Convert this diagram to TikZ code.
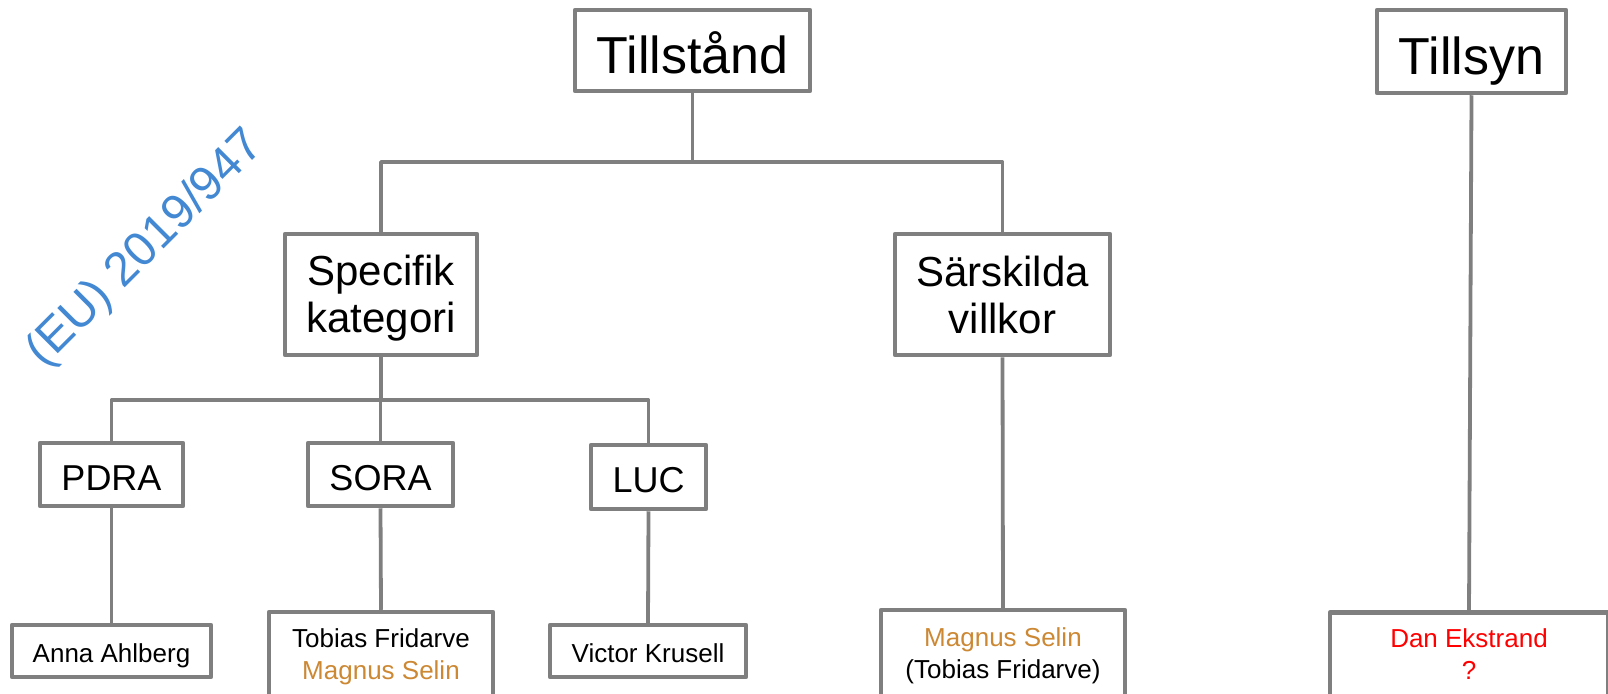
\documentclass[tikz,border=0pt]{standalone}
\usepackage{fontspec}
\setmainfont{Liberation Sans}
\definecolor{linegray}{HTML}{7F7F7F}
\definecolor{ochre}{HTML}{CC8833}
\definecolor{eublue}{HTML}{4288D2}
\begin{document}
\begin{tikzpicture}[x=1pt,y=-1pt,
  box/.style={draw=linegray, line width=4.5pt, line join=round, fill=white,
              inner sep=0pt, align=center},
  conn/.style={draw=linegray, line width=3.8pt, line join=round},
  big/.style={font=\fontsize{52}{52}\selectfont, text height=56pt, text depth=10.4pt},
  mid/.style={font=\fontsize{42}{47}\selectfont},
  small/.style={font=\fontsize{36}{40}\selectfont, text height=38.9pt, text depth=7.2pt},
  person/.style={font=\fontsize{26}{32}\selectfont},
  personone/.style={person, text height=28.1pt, text depth=5.2pt},
  boxtext/.style={align=center, inner sep=0pt}]
\useasboundingbox (0,0) rectangle (1608,693);

% top level
\node[box,big,minimum width=235pt,minimum height=81pt] (tillstand) at (692.5,50.5) {Tillstånd};
\node[box,big,minimum width=189pt,minimum height=83pt] (tillsyn) at (1471.5,51.5) {Tillsyn};

% second level: frames, then their two-line captions
\node[box,minimum width=192pt,minimum height=121pt] (specifik) at (381,294.5) {};
\node[boxtext,mid] (specifik-text) at ([yshift=-4pt]specifik.center) {Specifik\\kategori};
\node[box,minimum width=215pt,minimum height=121pt] (sarskilda) at (1002.5,294.5) {};
\node[boxtext,mid] (sarskilda-text) at (sarskilda.center) {Särskilda\\villkor};

% third level
\node[box,small,minimum width=143pt,minimum height=63pt] (pdra) at (111.5,474.5) {PDRA};
\node[box,small,minimum width=145pt,minimum height=63pt] (sora) at (380.5,474.5) {SORA};
\node[box,small,minimum width=115pt,minimum height=64pt] (luc) at (648.5,477) {LUC};

% people
\node[box,personone,minimum width=199pt,minimum height=52pt] (anna) at (111.5,651) {Anna Ahlberg};
\node[box,personone,minimum width=196pt,minimum height=52pt] (victor) at (648,651) {Victor Krusell};

\node[box,minimum width=224pt,minimum height=86pt] (tobias) at (381,655) {};
\node[boxtext,person] (tobias-text) at ([yshift=-2pt]tobias.center) {Tobias Fridarve\\\textcolor{ochre}{Magnus Selin}};
\node[box,minimum width=244pt,minimum height=88pt] (magnus) at (1003,654) {};
\node[boxtext,person] (magnus-text) at ([yshift=-2pt]magnus.center) {\textcolor{ochre}{Magnus Selin}\\(Tobias Fridarve)};
\node[box,minimum width=278pt,minimum height=87pt] (dan) at (1469,656) {};
\node[boxtext,person,text=red] (dan-text) at ([yshift=2pt]dan.center) {Dan Ekstrand\\?};

% regulation label
\node[rotate=45,text=eublue,font=\fontsize{48}{48}\selectfont,inner sep=0pt] (eu) at (146,249) {(EU) 2019/947};

% connectors
\coordinate (topbus) at (692.5,162);
\coordinate (midbus) at (381,400);
\draw[conn] (tillstand.south) -- (topbus);
\draw[conn] (specifik.north) |- (topbus) -| (sarskilda.north);
\draw[conn] (specifik.south) -- (midbus);
\draw[conn] (pdra.north) |- (midbus) -| (luc.north);
\draw[conn] (sora.north) -- (sora.north |- midbus);
\draw[conn] (pdra.south) -- (anna.north);
\draw[conn] (sora.south) -- (tobias.north);
\draw[conn] (luc.south) -- (victor.north);
\draw[conn] (sarskilda.south) -- (magnus.north);
\draw[conn] (tillsyn.south) -- (dan.north);
\end{tikzpicture}
\end{document}
